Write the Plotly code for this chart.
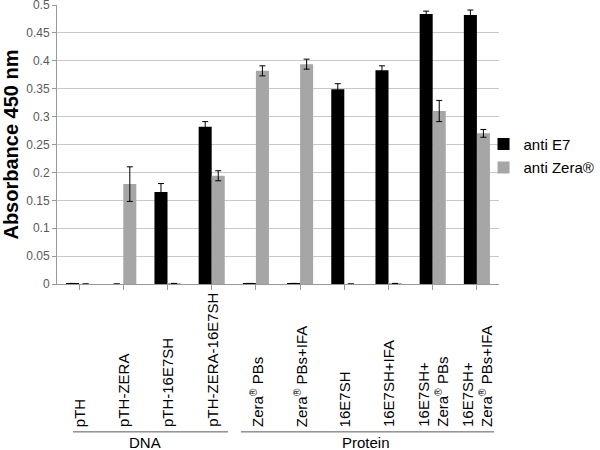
import plotly.graph_objects as go

categories = [
    "pTH", "pTH-ZERA", "pTH-16E7SH", "pTH-ZERA-16E7SH",
    "Zera<sup>®</sup> PBs", "Zera<sup>®</sup> PBs+IFA", "16E7SH", "16E7SH+IFA",
    "16E7SH+<br>Zera<sup>®</sup> PBs", "16E7SH+<br>Zera<sup>®</sup> PBs+IFA",
]
anti_e7 = [0.001, 0.0, 0.165, 0.282, 0.001, 0.001, 0.349, 0.383, 0.484, 0.482]
anti_e7_err = [0.0, 0.0, 0.015, 0.009, 0.0, 0.0, 0.010, 0.008, 0.005, 0.009]
anti_zera = [0.0, 0.179, 0.001, 0.194, 0.382, 0.394, 0.0, 0.001, 0.310, 0.270]
anti_zera_err = [0.0, 0.031, 0.0, 0.009, 0.009, 0.009, 0.0, 0.0, 0.019, 0.007]
groups = ["DNA", "Protein"]
group_first = [0, 4]
group_last = [3, 9]
y_ticks = [0, 0.05, 0.1, 0.15, 0.2, 0.25, 0.3, 0.35, 0.4, 0.45, 0.5]

FONT = "Arial, Liberation Sans, sans-serif"
x_idx = list(range(len(categories)))

fig = go.Figure()
fig.add_trace(go.Bar(
    x=x_idx, y=anti_e7, name="anti E7", marker_color="#000000",
    marker_line_width=0, legendgroup="a",
    error_y=dict(type="data", array=anti_e7_err, color="#000000", thickness=1, width=3),
))
fig.add_trace(go.Bar(
    x=x_idx, y=anti_zera, name="anti Zera®", marker_color="#a6a6a6",
    marker_line_width=0, legendgroup="b",
    error_y=dict(type="data", array=anti_zera_err, color="#000000", thickness=1, width=3),
))

annotations = []
for i, lab in enumerate(categories):
    annotations.append(dict(
        x=i, y=-0.52, xref="x", yref="paper", text=lab, textangle=-90,
        showarrow=False, xanchor="center", yanchor="bottom", align="left",
        font=dict(family=FONT, size=15, color="#000000"),
    ))
shapes = []
for g, a, b in zip(groups, group_first, group_last):
    shapes.append(dict(type="line", xref="x", yref="paper",
                       x0=a - 0.14 if a == 0 else a - 0.34, x1=b + 0.37 if b == 3 else b + 0.39,
                       y0=-0.530, y1=-0.530, line=dict(color="#595959", width=1)))
    annotations.append(dict(
        x=(a + b) / 2, y=-0.531, xref="x", yref="paper", text=g, showarrow=False,
        xanchor="center", yanchor="top", font=dict(family=FONT, size=15, color="#000000"),
    ))

fig.update_layout(
    width=600, height=450,
    margin=dict(l=57, r=101, t=5, b=166, autoexpand=False),
    paper_bgcolor="white", plot_bgcolor="white",
    barmode="group", bargap=0.41, bargroupgap=0,
    font=dict(family=FONT),
    showlegend=True,
    legend=dict(x=0.965, y=0.56, xanchor="left", yanchor="top",
                font=dict(family=FONT, size=15, color="#000000"),
                traceorder="grouped", tracegroupgap=1, bgcolor="rgba(0,0,0,0)",
                itemwidth=30),
    annotations=annotations, shapes=shapes,
)
fig.update_xaxes(
    range=[-0.5, 9.5], tickmode="array", tickvals=x_idx, showticklabels=False,
    ticks="outside", ticklen=5, tickcolor="#999999", tickson="boundaries",
    showline=True, linecolor="#999999", showgrid=False, zeroline=False, automargin=False,
)
fig.update_yaxes(
    range=[0, 0.5], tickvals=y_ticks, ticktext=[f"{v:g}" for v in y_ticks],
    ticks="outside", ticklen=4, tickcolor="#999999", ticklabeloverflow="allow",
    tickfont=dict(family=FONT, size=12, color="#595959"),
    showline=True, linecolor="#999999", showgrid=True, gridcolor="#c8c8c8",
    zeroline=False, automargin=False,
    title=dict(text="<b>Absorbance 450 nm</b>", font=dict(family=FONT, size=20, color="#000000"),
               standoff=26),
)

fig.write_html("out.html", config={"displayModeBar": False},
               post_script="document.body.style.margin='0px';")
